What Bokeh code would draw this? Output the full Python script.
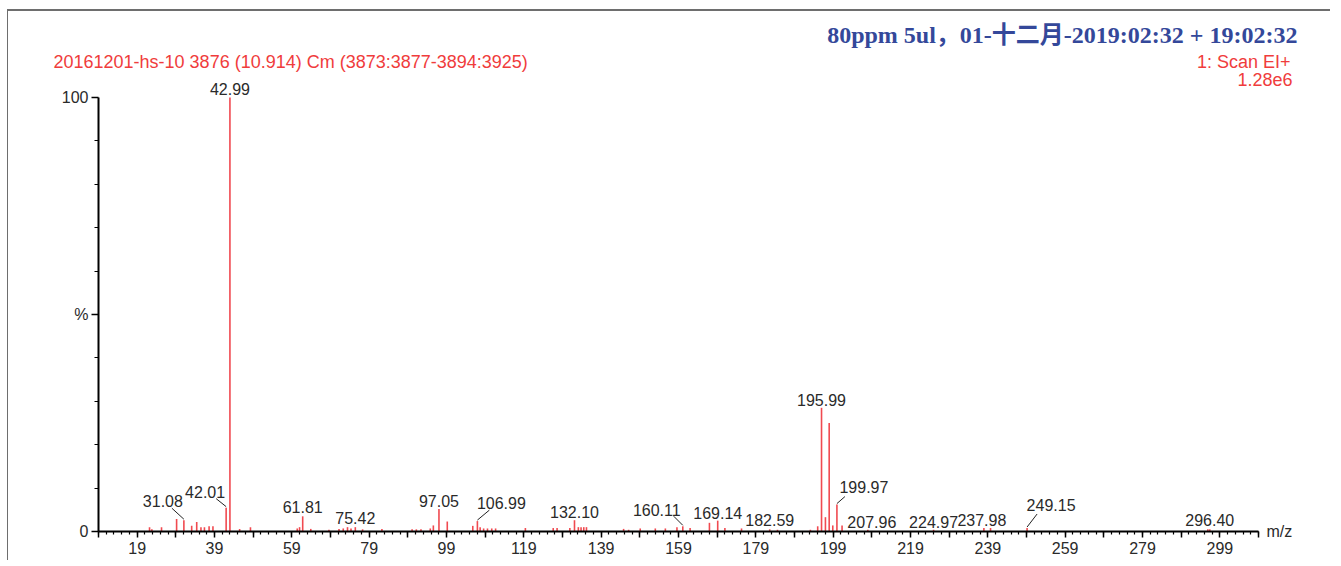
from bokeh.plotting import figure
from bokeh.models import Range1d, FixedTicker, Label, LinearAxis, ColumnDataSource
from bokeh.embed import file_html
from bokeh.resources import INLINE
from bokeh.core.properties import value

# ---------------- data ----------------
mz = [22.2, 22.8, 25.3, 29.2, 31.08, 33.1, 34.4, 35.5, 36.4, 37.6, 38.6, 42.01, 42.99,
      45.5, 48.3, 60.4, 61.0, 61.81, 63.9, 68.6, 71.2, 72.3, 73.4, 74.3, 75.42, 77.3,
      82.3, 90.1, 91.2, 92.4, 94.8, 95.6, 97.05, 99.2, 105.8, 106.99, 107.7, 108.6,
      109.6, 110.7, 111.7, 119.4, 126.6, 127.6, 130.9, 132.10, 133.1, 133.8, 134.5,
      135.2, 144.8, 146.1, 149.1, 153.0, 155.6, 158.6, 160.11, 162.0, 167.0, 169.14,
      171.0, 175.3, 182.59, 184.6, 193.1, 195.0, 195.99, 197.0, 197.97, 198.9, 199.97,
      201.3, 207.96, 224.97, 237.98, 239.7, 249.15, 295.9, 296.40]
intensity = [1.0, 0.5, 1.0, 2.9, 2.6, 1.3, 2.2, 1.0, 1.0, 1.2, 1.2, 5.5, 100,
             0.6, 1.0, 0.7, 1.0, 3.5, 0.6, 0.4, 0.6, 0.7, 1.0, 0.7, 1.0, 0.5,
             0.6, 0.5, 0.5, 0.5, 0.7, 1.4, 5.2, 2.3, 1.3, 2.4, 1.0, 0.7,
             0.7, 0.7, 0.7, 0.8, 0.8, 0.8, 0.8, 2.6, 1.0, 1.0, 1.0,
             1.0, 0.6, 0.4, 0.7, 0.7, 0.7, 1.0, 1.2, 0.8, 2.0, 2.5,
             0.8, 0.7, 0.5, 0.4, 0.4, 1.2, 28.5, 3.3, 25.0, 1.4, 6.2,
             1.4, 0.4, 0.4, 0.8, 0.8, 0.8, 0.5, 0.5]

labelled_mz = [31.08, 42.01, 42.99, 61.81, 75.42, 97.05, 106.99, 132.10, 160.11,
               169.14, 182.59, 195.99, 199.97, 207.96, 224.97, 237.98, 249.15, 296.40]

x_tick_labels = [19, 39, 59, 79, 99, 119, 139, 159, 179, 199, 219, 239, 259, 279, 299]
mz_min, mz_max = 9, 309

header_left = "20161201-hs-10 3876 (10.914) Cm (3873:3877-3894:3925)"
header_title = "80ppm 5ul\uff0c01-十二月-2019:02:32 + 19:02:32"
header_scan = "1: Scan EI+"
header_max = "1.28e6"

# ---------------- layout / style ----------------
PPU_X = 1160 / 300          # pixels per m/z unit
PPU_Y = 4.34                # pixels per % unit
FRAME_W, FRAME_H = 1270, 546
X0 = -6
X1 = X0 + FRAME_W / PPU_X
Y0 = -29 / PPU_Y
Y1 = Y0 + FRAME_H / PPU_Y
RED = "#F03C3C"
PEAK = "#F04A50"
INK = "#2a2a2a"
FONT = "Liberation Sans"

# label pixel offsets: (dx, gap above peak, leader end dx, leader end dy)
label_layout = {
    31.08: (-21, 13, -12, 12), 42.01: (-21, 10, -10, 9), 42.99: (0, 3, None, None),
    61.81: (0, 3, None, None), 75.42: (0, 3, None, None), 97.05: (0, 2, None, None),
    106.99: (24, 12, 12, 11), 132.10: (0, 2, None, None), 160.11: (-26, 10, -9, 10),
    169.14: (0, 2, None, None), 182.59: (0, 3, None, None), 195.99: (0, 2, None, None),
    199.97: (27, 12, 8, 8), 207.96: (4, 2, None, None), 224.97: (0, 2, None, None),
    237.98: (-2, 2, None, None), 249.15: (24, 17, 10, 14), 296.40: (0, 3, None, None),
}

ux = 1 / PPU_X
uy = 1 / PPU_Y

p = figure(frame_width=FRAME_W, frame_height=FRAME_H,
           x_range=Range1d(X0, X1), y_range=Range1d(Y0, Y1),
           x_axis_type=None, y_axis_type=None,
           output_backend="svg", toolbar_location=None,
           min_border_left=32, min_border_right=20, min_border_top=3, min_border_bottom=0)
p.outline_line_color = None
p.background_fill_color = "white"
p.border_fill_color = "white"
p.styles = {"margin-left": "7px", "margin-top": "9px",
            "border-top": "2px solid #6e6e6e", "border-left": "1px solid #6e6e6e"}

# axes
xmajor = list(range(mz_min, mz_max + 1, 10))
xaxis = LinearAxis(bounds=(mz_min, mz_max), fixed_location=0,
                   ticker=FixedTicker(ticks=xmajor, minor_ticks=list(range(mz_min, mz_max + 1, 2))))
xaxis.major_label_overrides = {t: (str(t) if t in x_tick_labels else "") for t in xmajor}
yaxis = LinearAxis(bounds=(0, 100), fixed_location=mz_min,
                   ticker=FixedTicker(ticks=[0, 50, 100], minor_ticks=[10, 20, 30, 40, 60, 70, 80, 90]))
yaxis.major_label_overrides = {0: "0", 50: "%", 100: "100"}
for ax in (xaxis, yaxis):
    ax.axis_line_width = 2
    ax.axis_line_color = "black"
    ax.major_tick_line_color = "black"
    ax.minor_tick_line_color = "black"
    ax.major_tick_line_width = 1.5
    ax.minor_tick_line_width = 1.2
    ax.major_tick_in = 0
    ax.minor_tick_in = 0
    ax.major_label_text_font = FONT
    ax.major_label_text_font_size = "16px"
    ax.major_label_text_color = INK
xaxis.major_tick_out = 6
xaxis.minor_tick_out = 3
xaxis.major_label_standoff = 4
yaxis.major_tick_out = 7
yaxis.minor_tick_out = 4
yaxis.major_label_standoff = 3
p.add_layout(xaxis, "below")
p.add_layout(yaxis, "left")

# peaks
src = ColumnDataSource(dict(x=mz, y0=[0] * len(mz), y=intensity))
p.segment(x0="x", y0="y0", x1="x", y1="y", source=src, line_color=PEAK, line_width=1.6)

# peak labels + leaders
lookup = dict(zip(mz, intensity))
lx, ly, lt, ldx, ldy = [], [], [], [], []
sx0, sy0, sx1, sy1 = [], [], [], []
for m in labelled_mz:
    h = lookup[m]
    dx, gap, ex, ey = label_layout[m]
    lx.append(m); ly.append(h); lt.append(f"{m:.2f}"); ldx.append(dx); ldy.append(-gap)
    if ex is not None:
        sx0.append(m); sy0.append(h + 1 * uy)
        sx1.append(m + ex * ux); sy1.append(h + ey * uy)

lsrc = ColumnDataSource(dict(x=lx, y=ly, text=lt, dx=ldx, dy=ldy))
p.text(x="x", y="y", text="text", x_offset="dx", y_offset="dy", source=lsrc,
       text_font=value(FONT), text_font_size="16px", text_color=INK,
       text_align="center", text_baseline="bottom")
p.segment(x0=sx0, y0=sy0, x1=sx1, y1=sy1, line_color="#222222", line_width=1)

# m/z label
p.add_layout(Label(x=mz_max, y=0, x_offset=8, text="m/z", text_baseline="middle",
                   text_font=FONT, text_font_size="16px", text_color=INK))

# header texts (screen units relative to the frame)
p.add_layout(Label(x=13, y=499, x_units="screen", y_units="screen", text=header_left,
                   text_font=FONT, text_font_size="18px", text_color=RED,
                   text_baseline="middle", text_align="left"))
p.add_layout(Label(x=1257, y=526, x_units="screen", y_units="screen", text=header_title,
                   text_font="Liberation Serif, Noto Sans CJK SC", text_font_style="bold",
                   text_font_size="24px", text_color="#34489A",
                   text_baseline="middle", text_align="right"))
p.add_layout(Label(x=1250, y=499, x_units="screen", y_units="screen", text=header_scan,
                   text_font=FONT, text_font_size="18px", text_color=RED,
                   text_baseline="middle", text_align="right"))
p.add_layout(Label(x=1252, y=481, x_units="screen", y_units="screen", text=header_max,
                   text_font=FONT, text_font_size="18px", text_color=RED,
                   text_baseline="middle", text_align="right"))

open("out.html", "w").write(file_html(p, INLINE))
